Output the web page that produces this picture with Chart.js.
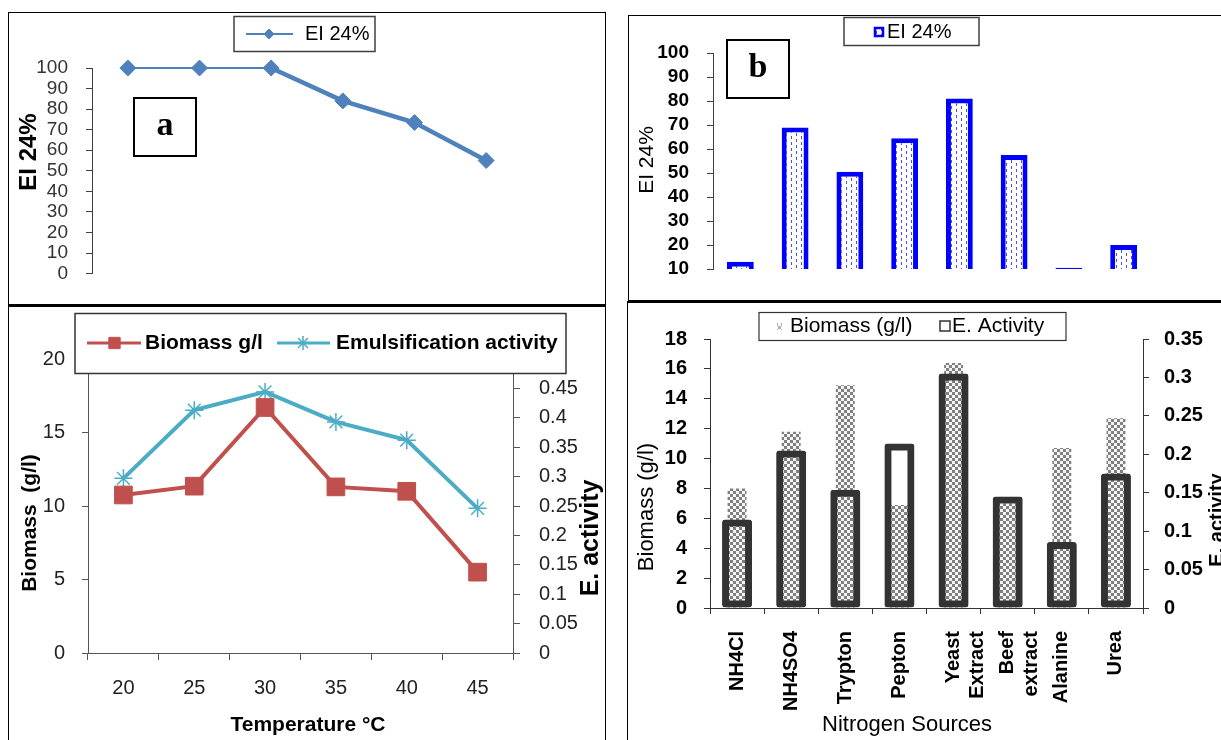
<!DOCTYPE html>
<html><head><meta charset="utf-8">
<script src="https://cdn.jsdelivr.net/npm/chart.js@4.4.1/dist/chart.umd.min.js"></script>
<style>
html,body{margin:0;padding:0;background:#fff;width:1221px;height:740px;overflow:hidden;position:relative}
.frame{position:absolute;box-sizing:border-box;border:1px solid #000}
canvas{position:absolute}
</style></head><body>
<div class="frame" style="left:8px;top:12px;width:598px;height:295px;border-bottom-width:3px"></div>
<div class="frame" style="left:8px;top:305px;width:598px;height:450px;border-top:none"></div>
<div class="frame" style="left:628px;top:15px;width:610px;height:288px;border-bottom-width:3px"></div>
<div class="frame" style="left:627px;top:301px;width:610px;height:450px;border-top:none"></div>
<canvas id="ca" width="595" height="290" style="left:9px;top:13px"></canvas>
<canvas id="cb" width="592" height="285" style="left:629px;top:16px"></canvas>
<canvas id="cc" width="595" height="434" style="left:9px;top:306px"></canvas>
<canvas id="cd" width="593" height="438" style="left:628px;top:302px"></canvas>
<script>
// ---- data ----
const temperatureLabels = ['20', '25', '30', '35', '40', '45'];
const eiTemperature = [100, 100, 100, 84, 73.5, 55];
const nitrogenSources = ['NH4Cl', 'NH4SO4', 'Trypton', 'Pepton', ['Yeast', 'Extract'], ['Beef', 'extract'], 'Alanine', 'Urea'];
const eiNitrogen = [13, 69, 50.5, 64.5, 81, 57.5, 10.5, 20];
const biomassTemperature = [10.75, 11.35, 16.7, 11.3, 11.0, 5.5];
const emulsificationTemperature = [0.297, 0.413, 0.444, 0.393, 0.362, 0.246];
const biomassNitrogen = [8.0, 11.8, 14.9, 6.9, 16.4, 7.0, 10.7, 12.7];
const activityNitrogen = [0.115, 0.205, 0.154, 0.214, 0.305, 0.145, 0.086, 0.175];
const seriesNames = {
  ei: 'EI 24%',
  biomassT: 'Biomass g/l',
  emulsT: 'Emulsification activity',
  biomassN: 'Biomass (g/l)',
  activityN: 'E. Activity'
};

// ---- helpers ----
const SANS = "'Liberation Sans', Arial, sans-serif";
const SERIF = "'Liberation Serif', 'Times New Roman', serif";
Chart.defaults.font.family = SANS;
Chart.defaults.color = '#000';
Chart.defaults.animation = false;

function makePattern(w, h, draw) {
  const c = document.createElement('canvas');
  c.width = w; c.height = h;
  const x = c.getContext('2d');
  draw(x);
  return x.createPattern(c, 'repeat');
}
const bluePattern = makePattern(10, 6, x => {
  x.fillStyle = '#fff'; x.fillRect(0, 0, 10, 6);
  x.fillStyle = '#4a4aff';
  x.fillRect(2, 0, 1, 3); x.fillRect(7, 3, 1, 3);
});
const checkPattern = makePattern(6, 6, x => {
  x.fillStyle = '#f4f4f4'; x.fillRect(0, 0, 6, 6);
  x.fillStyle = '#808080';
  x.fillRect(0, 0, 3, 3); x.fillRect(3, 3, 3, 3);
});
const fmt = v => String(+Number(v).toFixed(2));

function txt(ctx, s, x, y, font, o = {}) {
  ctx.save(); ctx.translate(x, y); if (o.rot) ctx.rotate(o.rot);
  ctx.font = font; ctx.fillStyle = o.color || '#000';
  ctx.textAlign = o.align || 'left'; ctx.textBaseline = 'middle';
  ctx.fillText(s, 0, 0); ctx.restore();
}
function box(ctx, x, y, w, h, lw, stroke, fill) {
  ctx.save();
  if (fill) { ctx.fillStyle = fill; ctx.fillRect(x, y, w, h); }
  ctx.lineWidth = lw; ctx.strokeStyle = stroke; ctx.strokeRect(x, y, w, h);
  ctx.restore();
}
function line(ctx, x1, x2, y, lw, color) {
  ctx.save(); ctx.strokeStyle = color; ctx.lineWidth = lw;
  ctx.beginPath(); ctx.moveTo(x1, y); ctx.lineTo(x2, y); ctx.stroke(); ctx.restore();
}
function mark(ctx, style, r, x, y, fill, stroke, bw) {
  ctx.save(); ctx.fillStyle = fill; ctx.strokeStyle = stroke; ctx.lineWidth = bw;
  Chart.helpers.drawPoint(ctx, {pointStyle: style, radius: r, rotation: 0, borderWidth: bw}, x, y);
  ctx.restore();
}
function overlay(fn) {
  return {id: 'overlay', afterDraw(chart) { const ctx = chart.ctx; ctx.save(); fn(ctx, chart); ctx.restore(); }};
}
const noPlugins = {legend: {display: false}, tooltip: {enabled: false}};
const UP = -Math.PI / 2;

// ---- panel a ----
new Chart(document.getElementById('ca'), {
  type: 'line',
  data: {labels: temperatureLabels, datasets: [{
    label: seriesNames.ei, data: eiTemperature,
    borderColor: '#4F81BD', backgroundColor: '#4F81BD',
    pointStyle: 'rectRot', pointRadius: 8, pointBorderWidth: 1,
    pointBackgroundColor: '#4F81BD', pointBorderColor: '#4F81BD',
    clip: false, tension: 0,
    segment: {borderWidth: c => c.p0DataIndex >= 2 ? 4.5 : 2}
  }]},
  options: {
    responsive: false, animation: false,
    layout: {padding: {left: 0, right: 82, top: 55, bottom: 19}},
    plugins: noPlugins,
    scales: {
      x: {display: false, offset: true},
      y: {min: 0, max: 100,
        ticks: {stepSize: 10, autoSkip: false, font: {size: 19}, color: '#333', padding: 18},
        grid: {drawOnChartArea: false, tickLength: 6, color: '#404040'},
        border: {color: '#404040'},
        afterFit(s) { s.width = 83; }}
    }
  },
  plugins: [overlay((ctx, chart) => {
    txt(ctx, 'EI 24%', 20, 139, 'bold 24px ' + SANS, {rot: UP, align: 'center'});
    box(ctx, 225, 3.5, 141, 35, 1.5, '#404040');
    const ds = chart.data.datasets[0];
    line(ctx, 237, 284, 21, 2, ds.borderColor);
    mark(ctx, 'rectRot', 5, 260, 21, ds.borderColor, ds.borderColor, 1);
    txt(ctx, ds.label, 296, 21, '20px ' + SANS);
    box(ctx, 125, 85, 62, 58, 2, '#000');
    txt(ctx, 'a', 156, 113, 'bold 34px ' + SERIF, {align: 'center'});
  })]
});

// ---- panel b ----
new Chart(document.getElementById('cb'), {
  type: 'bar',
  data: {labels: nitrogenSources, datasets: [{
    label: seriesNames.ei, data: eiNitrogen,
    backgroundColor: bluePattern, borderColor: '#0000FF', borderWidth: 5,
    categoryPercentage: 1, barPercentage: 0.49
  }]},
  options: {
    responsive: false, animation: false,
    layout: {padding: {left: 0, right: 70, top: 37, bottom: 32}},
    plugins: noPlugins,
    scales: {
      x: {display: false},
      y: {min: 10, max: 100,
        ticks: {stepSize: 10, autoSkip: false, font: {size: 19, weight: 'bold'}, color: '#000', padding: 18},
        grid: {drawOnChartArea: false, tickLength: 6, color: '#404040'},
        border: {color: '#404040'},
        afterFit(s) { s.width = 84; }}
    }
  },
  plugins: [overlay((ctx, chart) => {
    txt(ctx, 'EI 24%', 18.5, 144, '21px ' + SANS, {rot: UP, align: 'center'});
    box(ctx, 215, 1.5, 135, 28, 1.5, '#404040', '#fff');
    ctx.fillStyle = bluePattern; ctx.fillRect(245, 11, 10, 10);
    box(ctx, 246, 12, 8, 8, 2.5, '#0000FF');
    txt(ctx, chart.data.datasets[0].label, 258, 16, '20px ' + SANS);
    box(ctx, 98, 24, 62, 58, 2, '#000');
    txt(ctx, 'b', 129, 52, 'bold 34px ' + SERIF, {align: 'center'});
  })]
});

// ---- panel c ----
new Chart(document.getElementById('cc'), {
  type: 'line',
  data: {labels: temperatureLabels, datasets: [
    {label: seriesNames.biomassT, data: biomassTemperature, yAxisID: 'y',
     borderColor: '#C0504D', backgroundColor: '#C0504D', borderWidth: 4,
     pointStyle: 'rect', pointRadius: 12.5, pointBorderWidth: 1,
     pointBackgroundColor: '#C0504D', pointBorderColor: '#C0504D', clip: false, tension: 0},
    {label: seriesNames.emulsT, data: emulsificationTemperature, yAxisID: 'y2',
     borderColor: '#4BACC6', backgroundColor: '#4BACC6', borderWidth: 4,
     pointStyle: 'star', pointRadius: 9, pointBorderWidth: 1.5,
     pointBorderColor: '#4BACC6', clip: false, tension: 0}
  ]},
  options: {
    responsive: false, animation: false,
    layout: {padding: {left: 0, right: 0, top: 53, bottom: 0}},
    plugins: noPlugins,
    scales: {
      x: {offset: true,
        grid: {offset: true, drawOnChartArea: false, tickLength: 7, color: '#555'},
        border: {color: '#555'},
        ticks: {font: {size: 20}, color: '#222', padding: 16},
        afterFit(s) { s.height = 87; }},
      y: {min: 0, max: 20, position: 'left',
        ticks: {stepSize: 5, autoSkip: false, font: {size: 20}, color: '#222', padding: 17},
        grid: {drawOnChartArea: false, tickLength: 6, color: '#555'},
        border: {color: '#555'},
        afterFit(s) { s.width = 79; }},
      y2: {min: 0, max: 0.5, position: 'right',
        ticks: {stepSize: 0.05, font: {size: 20}, color: '#222', padding: 19, autoSkip: false,
          callback: v => v >= 0.5 ? '' : fmt(v)},
        grid: {drawOnChartArea: false, tickLength: 7, color: '#555'},
        border: {color: '#555'},
        afterFit(s) { s.width = 91; }}
    }
  },
  plugins: [overlay((ctx, chart) => {
    const [d0, d1] = chart.data.datasets;
    box(ctx, 66, 7.5, 491, 60, 1.5, '#333', '#fff');
    line(ctx, 78, 132, 37, 3, d0.borderColor);
    mark(ctx, 'rect', 8, 105.5, 37, d0.borderColor, d0.borderColor, 1);
    txt(ctx, d0.label, 136, 37, 'bold 21px ' + SANS);
    line(ctx, 268, 321, 37, 3, d1.borderColor);
    mark(ctx, 'star', 7, 294, 37, d1.borderColor, d1.borderColor, 1.5);
    txt(ctx, d1.label, 327, 37, 'bold 21px ' + SANS);
    txt(ctx, 'Biomass  (g/l)', 21, 217, 'bold 21px ' + SANS, {rot: UP, align: 'center'});
    txt(ctx, 'E. activity', 582, 232, 'bold 25px ' + SANS, {rot: UP, align: 'center'});
    txt(ctx, 'Temperature °C', 299, 419, 'bold 21px ' + SANS, {align: 'center'});
  })]
});

// ---- panel d ----
new Chart(document.getElementById('cd'), {
  type: 'bar',
  data: {labels: nitrogenSources, datasets: [
    {label: seriesNames.biomassN, data: biomassNitrogen, yAxisID: 'y', order: 2,
     backgroundColor: checkPattern, borderWidth: 0, grouped: false,
     categoryPercentage: 1, barPercentage: 0.35},
    {label: seriesNames.activityN, data: activityNitrogen, yAxisID: 'y2', order: 1,
     backgroundColor: 'rgba(0,0,0,0)', borderColor: '#333', borderWidth: 7,
     borderSkipped: false, borderRadius: 3, grouped: false,
     categoryPercentage: 1, barPercentage: 0.555}
  ]},
  options: {
    responsive: false, animation: false,
    layout: {padding: {left: 0, right: 0, top: 37, bottom: 0}},
    plugins: noPlugins,
    scales: {
      x: {offset: true,
        grid: {offset: true, drawOnChartArea: false, tickLength: 6, color: '#333'},
        border: {color: '#333'},
        ticks: {font: {size: 20, weight: 'bold'}, color: '#000', padding: 17,
          minRotation: 90, maxRotation: 90, autoSkip: false},
        afterFit(s) { s.height = 132; }},
      y: {min: 0, max: 18, position: 'left',
        ticks: {stepSize: 2, autoSkip: false, font: {size: 20, weight: 'bold'}, color: '#000', padding: 17},
        grid: {drawOnChartArea: false, tickLength: 6, color: '#333'},
        border: {color: '#333'},
        afterFit(s) { s.width = 82; }},
      y2: {min: 0, max: 0.35, position: 'right',
        ticks: {stepSize: 0.05, font: {size: 20, weight: 'bold'}, color: '#000', padding: 15, autoSkip: false,
          callback: v => fmt(v)},
        grid: {drawOnChartArea: false, tickLength: 6, color: '#333'},
        border: {color: '#333'},
        afterFit(s) { s.width = 78; }}
    }
  },
  plugins: [overlay((ctx, chart) => {
    const [d0, d1] = chart.data.datasets;
    box(ctx, 131, 10.5, 307, 28, 1.2, '#333', '#fff');
    ctx.fillStyle = checkPattern; ctx.globalAlpha = 0.6; ctx.fillRect(149, 21, 5, 7); ctx.globalAlpha = 1;
    txt(ctx, d0.label, 162, 24, '21px ' + SANS);
    box(ctx, 312, 19, 10, 10, 1.5, '#333');
    txt(ctx, d1.label, 324, 24, '21px ' + SANS);
    txt(ctx, 'Biomass (g/l)', 19, 205, '22px ' + SANS, {rot: UP, align: 'center'});
    txt(ctx, 'Nitrogen Sources', 279, 423, '22px ' + SANS, {align: 'center'});
    txt(ctx, 'E. activity', 589, 218, 'bold 20px ' + SANS, {rot: UP, align: 'center'});
  })]
});
</script>
</body></html>
